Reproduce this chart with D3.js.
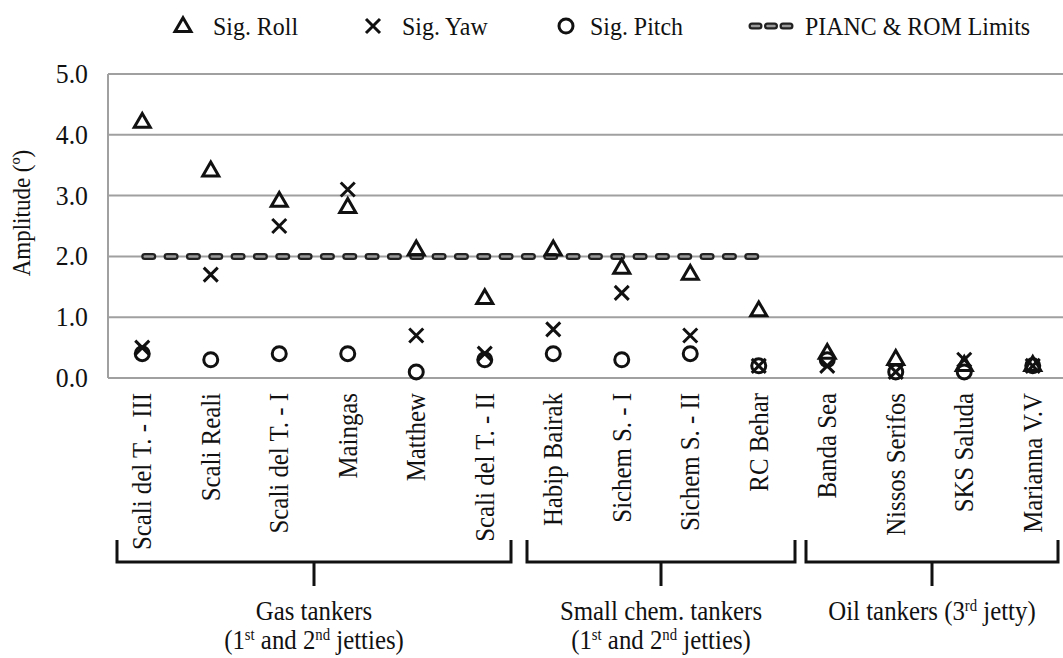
<!DOCTYPE html>
<html>
<head>
<meta charset="utf-8">
<script src="https://cdn.jsdelivr.net/npm/d3@7"></script>
<style>
  html, body { margin: 0; padding: 0; background: #fff; }
  svg { display: block; }
  text { font-family: "Liberation Serif", "Times New Roman", serif; fill: #111; }
</style>
</head>
<body>
<svg id="chart" width="1063" height="658"></svg>
<script>
// Ship names along the x axis
const categories = [
  "Scali del T. - III", "Scali Reali", "Scali del T. - I", "Maingas", "Matthew",
  "Scali del T. - II", "Habip Bairak", "Sichem S. - I", "Sichem S. - II", "RC Behar",
  "Banda Sea", "Nissos Serifos", "SKS Saluda", "Marianna V.V"
];
// Significant motion amplitudes (degrees)
const sigRoll  = [4.2, 3.4, 2.9, 2.8, 2.1, 1.3, 2.1, 1.8, 1.7, 1.1, 0.4, 0.3, 0.2, 0.2];
const sigYaw   = [0.5, 1.7, 2.5, 3.1, 0.7, 0.4, 0.8, 1.4, 0.7, 0.2, 0.2, 0.1, 0.3, 0.2];
const sigPitch = [0.4, 0.3, 0.4, 0.4, 0.1, 0.3, 0.4, 0.3, 0.4, 0.2, 0.3, 0.1, 0.1, 0.2];
// PIANC & ROM limit, applied from the first to the last listed ship
const limitValue = 2.0;
const limitFrom = "Scali del T. - III";
const limitTo = "RC Behar";
// Y axis ticks
const yTicks = [0, 1, 2, 3, 4, 5];
// Ship groups
const groupNames = ["Gas tankers", "Small chem. tankers", "Oil tankers"];
const groupFirst = ["Scali del T. - III", "Habip Bairak", "Banda Sea"];
const groupLast  = ["Scali del T. - II", "RC Behar", "Marianna V.V"];
const jettyNote = [["(1", ""], ["st", "sup"], [" and 2", ""], ["nd", "sup"], [" jetties)", ""]];
const groupSub = [jettyNote, jettyNote, []];
const groupInline = [[], [], [[" (3", ""], ["rd", "sup"], [" jetty)", ""]]];

const svg = d3.select("#chart");
const FS = 27;          // font size
const SX = 0.92;        // horizontal condensing of the serif face
const plot = { left: 108, right: 1067, top: 74, bottom: 378 };
const grid = "#a0a0a0";
const ink = "#111";

const x = d3.scaleBand().domain(categories).range([plot.left, plot.right]);
const y = d3.scaleLinear().domain([0, 5]).range([plot.bottom, plot.top]);
const cx = d => x(d) + x.bandwidth() / 2;

// text helper: condensed serif text placed by transform
const label = (parent, tx, ty, rot, anchor, size) =>
  parent.append("text")
    .attr("transform", `translate(${tx},${ty}) rotate(${rot}) scale(${SX},1)`)
    .attr("text-anchor", anchor).attr("font-size", size || FS);

// Marker shapes
const triPath = (s) => {
  const h = s * Math.sqrt(3) / 2;
  return `M0,${-h * 2 / 3}L${s / 2},${h / 3}L${-s / 2},${h / 3}Z`;
};
const crossPath = (s) => `M${-s/2},${-s/2}L${s/2},${s/2}M${s/2},${-s/2}L${-s/2},${s/2}`;

// Gridlines
svg.append("g").selectAll("line").data(yTicks).join("line")
  .attr("x1", plot.left).attr("x2", plot.right)
  .attr("y1", d => y(d)).attr("y2", d => y(d))
  .attr("stroke", grid).attr("stroke-width", 2);
svg.append("line")
  .attr("x1", plot.left).attr("x2", plot.left)
  .attr("y1", y(5)).attr("y2", y(0))
  .attr("stroke", grid).attr("stroke-width", 2);

// Y tick labels
const fmt = d3.format(".1f");
const gy = svg.append("g");
yTicks.forEach(t => label(gy, 88, y(t) + 9, 0, "end", 28).text(fmt(t)));

label(svg, 30, (y(0) + y(5)) / 2 - 13, -90, "middle", 25).text("Amplitude (º)");

// Limit line (dashed, outlined)
const limitLine = (sel, x1, x2, yy, dash, n) => {
  const period = (x2 - x1 - dash) / (n - 1);
  const arr = `${dash} ${period - dash}`;
  [["#222", 7], ["#9a9a9a", 2.5]].forEach(([c, w]) => {
    sel.append("line").attr("x1", x1).attr("x2", x2).attr("y1", yy).attr("y2", yy)
      .attr("stroke", c).attr("stroke-width", w).attr("stroke-linecap", "round")
      .attr("stroke-dasharray", arr);
  });
};
limitLine(svg.append("g"), cx(limitFrom) + 2.5, cx(limitTo) - 3, y(limitValue), 8, 28);

// Markers
const marks = svg.append("g").attr("fill", "none").attr("stroke", ink).attr("stroke-width", 3);
marks.selectAll(".pitch").data(categories).join("circle").attr("class", "pitch")
  .attr("cx", d => cx(d)).attr("cy", (d, i) => y(sigPitch[i])).attr("r", 7);
marks.selectAll(".roll").data(categories).join("path").attr("class", "roll")
  .attr("d", triPath(16))
  .attr("transform", (d, i) => `translate(${cx(d)},${y(sigRoll[i])})`);
marks.selectAll(".yaw").data(categories).join("path").attr("class", "yaw")
  .attr("d", crossPath(14))
  .attr("transform", (d, i) => `translate(${cx(d)},${y(sigYaw[i])})`);

// Category labels (rotated)
const gx = svg.append("g");
categories.forEach(c => label(gx, cx(c) + 9, 393, -90, "end").text(c));

// Group brackets and captions
const padL = [9, 8, 13];
const padR = [8, -2, 9];
const bTop = 540, bBar = 562, bStem = 586;
const gb = svg.append("g").attr("fill", "none").attr("stroke", ink).attr("stroke-width", 3);
const addRuns = (t, runs) => runs.forEach(([s, k]) => {
  t.append("tspan").text(s)
    .attr("font-size", k ? 16 : FS)
    .attr("baseline-shift", k ? "60%" : null);
});
groupNames.forEach((g, i) => {
  const l = x(groupFirst[i]) + padL[i];
  const r = x(groupLast[i]) + x.bandwidth() - padR[i];
  const m = (l + r) / 2;
  gb.append("path").attr("d", `M${l},${bTop}V${bBar}H${r}V${bTop}M${m},${bBar}V${bStem}`);

  const t1 = label(svg, m, 620, 0, "middle");
  t1.append("tspan").text(g);
  addRuns(t1, groupInline[i]);
  if (groupSub[i].length) addRuns(label(svg, m, 649, 0, "middle"), groupSub[i]);
});

// Legend
const legendY = 26;
const lg = svg.append("g");
const lm = lg.append("g").attr("fill", "none").attr("stroke", ink).attr("stroke-width", 3);
lm.append("path").attr("d", triPath(16)).attr("transform", `translate(183,${legendY + 1})`);
lm.append("path").attr("d", crossPath(14)).attr("transform", `translate(373,${legendY})`);
lm.append("circle").attr("cx", 566).attr("cy", legendY).attr("r", 7);
limitLine(lg.append("g"), 752, 790, legendY, 7, 3);
const legendItems = [["Sig. Roll", 213], ["Sig. Yaw", 402], ["Sig. Pitch", 590], ["PIANC & ROM Limits", 805]];
legendItems.forEach(([s, lx]) => label(lg, lx, legendY + 9, 0, "start", 26).text(s));
</script>
</body>
</html>
